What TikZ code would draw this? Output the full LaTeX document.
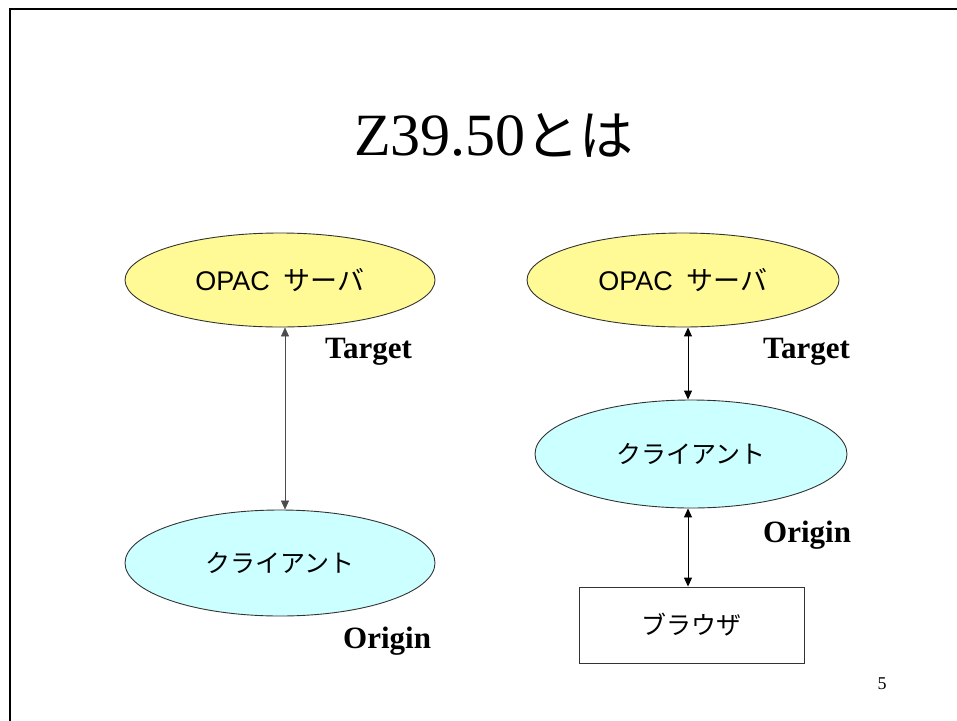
\documentclass[tikz,border=0pt]{standalone}
\usepackage{fontspec}
\setmainfont{Liberation Serif}
\newfontfamily\jp{Noto Sans CJK JP}
\newfontfamily\lat{Liberation Sans}
\usetikzlibrary{shapes.geometric,arrows.meta,calc}
\definecolor{ylw}{RGB}{255,250,150}
\definecolor{cyn}{RGB}{204,255,255}
\begin{document}
\begin{tikzpicture}[x=1pt,y=-1pt,
  ell/.style={ellipse,draw=black!80,line width=0.9pt,inner sep=0pt},
  ytag/.style={ell,fill=ylw},
  ctag/.style={ell,fill=cyn},
  boxn/.style={rectangle,draw=black!80,line width=0.9pt,inner sep=0pt,minimum width=225pt,minimum height=76pt},
  jtext/.style={font=\jp\fontsize{25}{28}\selectfont},
  role/.style={font=\bfseries\fontsize{31}{34}\selectfont,anchor=base west,inner sep=0pt},
  link/.style={{Triangle[width=8pt,length=9pt]}-{Triangle[width=8pt,length=9pt]},line width=1pt,black},
  thinlink/.style={link,line width=0.6pt,draw=black!70}]
\useasboundingbox (0,0) rectangle (957,720);
\draw[line width=2pt] (10,722) -- (10,9) -- (960,9);
% title
\node[anchor=base west,inner sep=0pt] (title) at (354,155) {\fontsize{60}{66}\selectfont Z39.50{\jp\fontsize{54}{60}\selectfont とは}};
% left diagram
\node[ytag,minimum width=310pt,minimum height=94pt] (y1) at (280,280) {\lat\fontsize{27}{30}\selectfont OPAC\hspace{14pt}{\jp\fontsize{27}{30}\selectfont サーバ}};
\node[ctag,minimum width=310pt,minimum height=106pt,jtext] (c1) at (280,563) {クライアント};
\draw[thinlink] ($(y1.south)+(5,0)$) -- ($(c1.north)+(5,0)$);
\node[role] (t1) at (325,358) {Target};
\node[role] (o1) at (343,648) {Origin};
% right diagram
\node[ytag,minimum width=312pt,minimum height=94pt] (y2) at (683,280) {\lat\fontsize{27}{30}\selectfont OPAC\hspace{14pt}{\jp\fontsize{27}{30}\selectfont サーバ}};
\node[ctag,minimum width=312pt,minimum height=108pt,jtext] (c2) at (691,454) {クライアント};
\node[boxn,jtext] (b) at (691.5,625) {ブラウザ};
\draw[link] ($(y2.south)+(5,0)$) -- ($(c2.north)+(-3,0)$);
\draw[link] ($(c2.south)+(-3,0)$) -- ($(b.north)+(-3.5,0)$);
\node[role] (t2) at (763,358) {Target};
\node[role] (o2) at (763,542) {Origin};
% page number
\node[inner sep=0pt,font=\fontsize{18}{20}\selectfont] (pg) at (882,684) {5};
\end{tikzpicture}
\end{document}
